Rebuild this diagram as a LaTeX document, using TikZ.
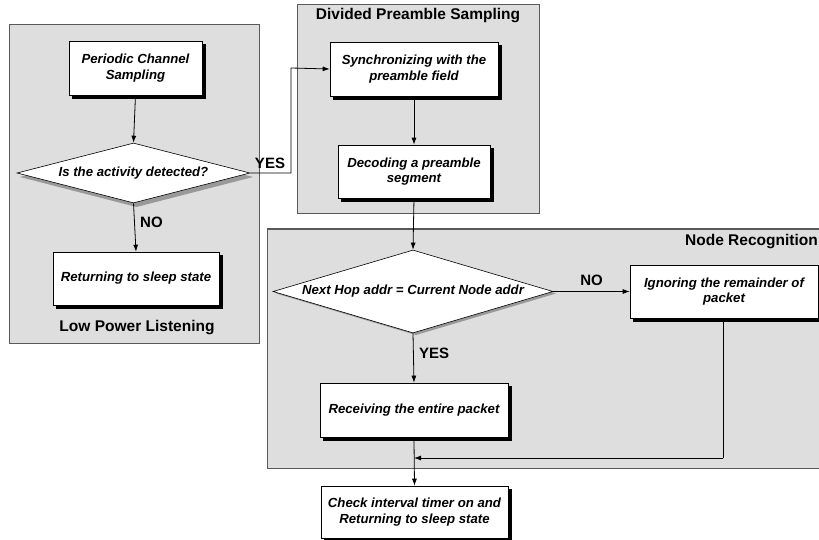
\documentclass[tikz,border=0pt]{standalone}
\usepackage{fontspec}
\setmainfont{Liberation Sans}
\usetikzlibrary{shapes.geometric,arrows.meta}
\begin{document}
\begin{tikzpicture}[x=1pt,y=-1pt,
  panel/.style={draw=black!65,line width=1pt,fill=black!13},
  procbox/.style={draw=black,line width=0.6pt,fill=white,align=center,inner sep=2pt,
    font=\fontsize{13.2}{15.5}\selectfont\bfseries\itshape},
  shbox/.style={draw=black,line width=0.6pt,fill=black,inner sep=0pt},
  decision/.style={diamond,draw=black,line width=0.6pt,fill=white,inner sep=0pt,align=center,
    font=\fontsize{13.2}{15.5}\selectfont\bfseries\itshape},
  diashadow/.style={fill=black!40},
  ptitle/.style={font=\fontsize{15.5}{18}\selectfont\bfseries},
  lbl/.style={font=\fontsize{15}{18}\selectfont\bfseries},
  conn/.style={draw=black,line width=0.8pt,-{Latex[length=7pt,width=5pt]}},
  line/.style={draw=black,line width=0.8pt}]
\useasboundingbox (0,0) rectangle (819,540);
% panels
\path[panel] (9,25) rectangle (259,343);
\path[panel] (297,5) rectangle (539,214);
\path[panel] (267,229) rectangle (840,468);
% diamond shadows
\fill[diashadow] (136.5,147) -- (253,177) -- (136.5,207) -- (20,177) -- cycle;
\fill[diashadow] (416,252) -- (556,293.5) -- (416,335) -- (276,293.5) -- cycle;
\node[ptitle] (tlpl) at (137,328) {Low Power Listening};
\node[ptitle] (tdps) at (418,16) {Divided Preamble Sampling};
\node[ptitle,anchor=east,inner xsep=1pt] (tnr) at (819,242) {Node Recognition};
% box shadows
\node[shbox,minimum width=133pt,minimum height=54pt] (pcssh) at (139,71.5) {};
\node[shbox,minimum width=166pt,minimum height=53pt] (retsh) at (139.5,282) {};
\node[shbox,minimum width=168pt,minimum height=54pt] (synsh) at (417.5,72.5) {};
\node[shbox,minimum width=152pt,minimum height=53pt] (decsh) at (417.5,175) {};
\node[shbox,minimum width=188pt,minimum height=53pt] (ignsh) at (727.5,295) {};
\node[shbox,minimum width=188pt,minimum height=54pt] (rcvsh) at (417.5,413.5) {};
\node[shbox,minimum width=187pt,minimum height=52pt] (chksh) at (418,515.5) {};
% nodes
\node[procbox,minimum width=133pt,minimum height=54pt] (pcs) at (135.5,68) {Periodic Channel\\Sampling};
\node[decision,minimum width=233pt,minimum height=60pt,shape aspect=3.9] (act) at (133.5,173) {Is the activity detected?};
\node[procbox,minimum width=166pt,minimum height=53pt] (ret) at (136,278.5) {Returning to sleep state};
\node[procbox,minimum width=168pt,minimum height=54pt] (syn) at (414,69) {Synchronizing with the\\preamble field};
\node[procbox,minimum width=152pt,minimum height=53pt] (dec) at (414,171.5) {Decoding a preamble\\segment};
\node[decision,minimum width=280pt,minimum height=83pt,shape aspect=3.37] (hop) at (413,291.5) {Next Hop addr = Current Node addr};
\node[procbox,minimum width=188pt,minimum height=53pt] (ign) at (724,291.5) {Ignoring the remainder of\\packet};
\node[procbox,minimum width=188pt,minimum height=54pt] (rcv) at (414,410) {Receiving the entire packet};
\node[procbox,minimum width=187pt,minimum height=52pt] (chk) at (414.5,512) {Check interval timer on and\\Returning to sleep state};
\coordinate (yb) at (291,173);
\coordinate (yt) at (291,68);
\coordinate (ja) at (723,458);
\coordinate (jb) at (414,458);
% connectors
\draw[conn] (pcs.south) -- (act.north);
\draw[conn] (act.south) -- node[lbl,right,pos=0.4,xshift=2pt] (tno1) {NO} (ret.north);
\draw[conn] (act.east) -- (yb) -- (yt) -- (syn.west);
\node[lbl] (tyes1) at (270,163) {YES};
\draw[conn] (syn.south) -- (dec.north);
\draw[conn] (dec.south) -- (hop.north);
\draw[conn] (hop.east) -- node[lbl,above,yshift=2pt] (tno2) {NO} (ign.west);
\draw[conn] (hop.south) -- node[lbl,right,pos=0.4,xshift=2pt] (tyes2) {YES} (rcv.north);
\draw[line] (ignsh.south -| ja) -- (ja);
\draw[conn] (ja) -- (jb);
\draw[conn] (rcvsh.south -| rcv.south) -- (chk.north);
\end{tikzpicture}
\end{document}
